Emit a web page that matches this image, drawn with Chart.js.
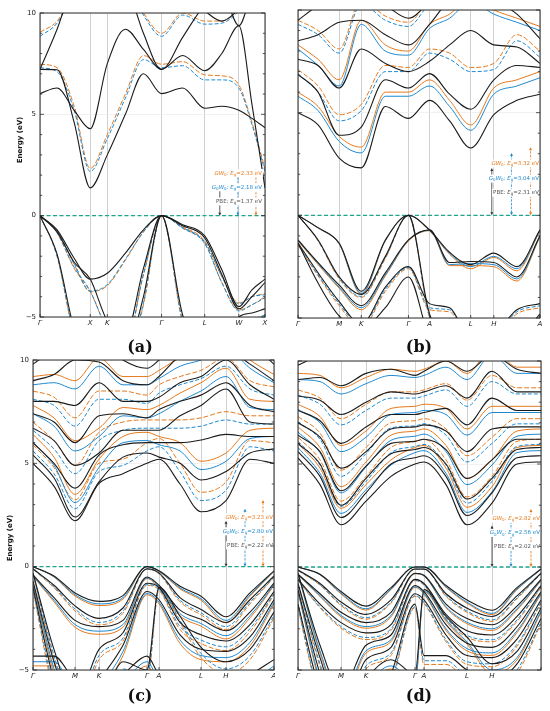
<!DOCTYPE html>
<html><head><meta charset="utf-8">
<script src="https://cdn.jsdelivr.net/npm/chart.js@4.4.1/dist/chart.umd.min.js"></script>
<style>
body{margin:0;background:#fff;width:550px;height:711px;position:relative;overflow:hidden}
canvas{position:absolute}
.lbl{position:absolute;font-family:'DejaVu Serif',serif;font-weight:bold;font-size:16px;transform:translate(-50%,-50%);white-space:nowrap;color:#111}
.ylab{position:absolute;font-family:'DejaVu Sans',sans-serif;font-weight:bold;font-size:7px;transform:translate(-50%,-50%) rotate(-90deg);white-space:nowrap;color:#111}
</style></head>
<body>
<canvas id="ca" style="left:0;top:0" width="275" height="330"></canvas>
<canvas id="cb" style="left:275px;top:0" width="275" height="330"></canvas>
<canvas id="cc" style="left:0;top:330px" width="275" height="381"></canvas>
<canvas id="cd" style="left:275px;top:330px" width="275" height="381"></canvas>
<div class="ylab" style="left:20px;top:140px">Energy (eV)</div>
<div class="ylab" style="left:10px;top:538px">Energy (eV)</div>
<div class="lbl" style="left:140px;top:346px">(a)</div>
<div class="lbl" style="left:419px;top:346px">(b)</div>
<div class="lbl" style="left:140px;top:695px">(c)</div>
<div class="lbl" style="left:419px;top:695px">(d)</div>
<script>
// ---------- Panel (a) ----------
const kA = [0, 17, 34, 50, 67, 85, 103, 121, 142, 164, 181, 198, 211, 224];
const tickA = [0, 50, 67, 121, 164, 198, 224];
const labA = ['Γ','X','K','Γ','L','W','X'];
const gapA = [1.37, 2.18, 2.33];
const pbeA = [
 [0, -0.7, -2.1, -3.13, -2.84, -1.85, -0.7, 0, -0.45, -1.0, -2.67, -4.49, -3.66, -3.13],
 [0, -0.8, -2.3, -3.13, -5.2, -5.9, -2.6, 0, -0.5, -1.1, -2.9, -4.6, -4.0, -3.3],
 [0, -1.9, -5.6, -7.5, -7.5, -7.0, -4.0, 0, -4.9, -7, -7, -5.0, -4.8, -4.6],
 [7.22, 7.2, 4.6, 1.37, 3.0, 5.0, 7.0, 6.02, 6.3, 5.3, 5.4, 5.2, 4.8, 4.34],
 [6.02, 6.3, 5.2, 4.29, 7.5, 9.2, 8.2, 7.22, 7.9, 7.15, 8.0, 9.37, 5.5, 1.37],
 [7.22, 9.2, 11.5, 12, 12, 11.5, 9.0, 7.22, 8.8, 10.4, 11, 9.37, 11, 12],
 [12, 11, 10.6, 11, 11, 10.5, 11, 12, 11, 10.1, 9.6, 10.2, 11, 12]
];
const g0w0A = [
 [0, -0.75, -2.35, -3.72, -3.4, -2.15, -0.8, 0, -0.58, -1.3, -3.0, -4.35, -4.0, -3.9],
 [0, -0.85, -2.55, -3.72, -5.6, -6.4, -2.9, 0, -0.62, -1.38, -3.3, -4.7, -4.4, -4.05],
 [0, -2.0, -5.9, -8, -8, -7.5, -4.3, 0, -5.2, -7.5, -7.5, -5.3, -5.1, -4.9],
 [7.3, 7.1, 5.2, 2.18, 3.8, 5.8, 7.7, 7.3, 7.4, 6.7, 6.7, 6.3, 4.5, 2.18],
 [8.85, 9.5, 11, 12, 12, 11.5, 9.9, 8.85, 9.9, 9.45, 9.5, 10.1, 11, 12]
];
const gw0A = [
 [0, -0.75, -2.4, -3.75, -3.45, -2.2, -0.8, 0, -0.55, -1.25, -3.0, -4.3, -4.0, -3.85],
 [0, -0.85, -2.6, -3.75, -5.6, -6.5, -2.9, 0, -0.6, -1.35, -3.3, -4.65, -4.4, -4.0],
 [0, -2.0, -6.0, -8, -8, -7.6, -4.4, 0, -5.3, -7.6, -7.6, -5.4, -5.2, -5.0],
 [7.47, 7.3, 5.4, 2.33, 4.0, 6.0, 7.9, 7.47, 7.6, 6.95, 6.9, 6.45, 4.6, 2.33],
 [9.05, 9.6, 11, 12, 12, 11.5, 10.0, 9.0, 10.0, 9.6, 9.6, 10.2, 11, 12]
];

// ---------- Panel (b) ----------
const kB = [0, 20, 41, 63, 87, 110, 131, 151, 172, 195, 218, 241];
const tickB = [0, 41, 63, 110, 131, 172, 195, 241];
const labB = ['Γ','M','K','Γ','A','L','H','A'];
const gapB = [2.31, 3.04, 3.32];
const pbeB = [
 [0, -0.6, -1.35, -3.7, -1.2, 0, -0.71, -1.8, -2.4, -1.84, -2.5, -0.71],
 [0, -1.2, -3.0, -3.85, -2.0, 0, -4.8, -6, -6, -6, -6, -4.8],
 [-1.2, -2.3, -3.4, -4.4, -2.8, -1.2, -0.71, -2.3, -2.25, -2.3, -3.0, -1.0],
 [-1.35, -2.8, -4.2, -5.3, -3.5, -2.5, -4.3, -4.5, -6, -5.8, -4.6, -4.3],
 [-1.35, -3.3, -4.9, -5.5, -4.5, -3.0, -6, -7, -7, -7, -7, -6],
 [5.0, 4.4, 2.79, 2.31, 5.3, 4.72, 5.6, 4.6, 3.28, 4.9, 5.6, 5.9],
 [6.86, 6.0, 3.9, 4.3, 6.6, 6.2, 6.9, 5.9, 5.17, 6.6, 7.3, 7.2],
 [7.6, 7.3, 6.2, 8.1, 7.4, 7.0, 7.5, 8.3, 9.0, 8.3, 8.2, 7.4],
 [8.5, 8.8, 9.4, 9.5, 8.8, 8.3, 9.3, 10.5, 11, 10.5, 9.8, 8.6],
 [9.5, 10.2, 10.5, 10.5, 10.2, 9.6, 10.5, 12, 12, 12, 11, 10]
];
const g0w0B = [
 [0, -0.61, -1.38, -3.8, -1.22, 0, -0.73, -1.85, -2.5, -2.0, -2.6, -0.74],
 [0, -1.22, -3.05, -3.95, -2.05, 0, -4.9, -6.1, -6.1, -6.1, -6.1, -4.9],
 [-1.22, -2.35, -3.5, -4.5, -2.9, -1.22, -0.73, -2.4, -2.35, -2.4, -3.1, -1.02],
 [-1.4, -2.9, -4.3, -5.4, -3.6, -2.55, -4.5, -4.6, -6.1, -5.9, -4.7, -4.4],
 [5.8, 5.1, 3.6, 3.04, 5.8, 5.8, 6.3, 5.3, 4.14, 5.9, 6.3, 6.7],
 [6.9, 6.0, 4.6, 5.1, 7.0, 7.0, 7.9, 7.6, 7.0, 7.1, 8.5, 7.7],
 [8.1, 7.3, 6.3, 9.3, 8.0, 7.8, 9.1, 9.6, 10.4, 9.8, 9.4, 9.0],
 [9.3, 8.8, 7.9, 10.3, 9.5, 9.2, 10.3, 10.8, 11.3, 10.8, 10.6, 10.3]
];
const gw0B = [
 [0, -0.62, -1.4, -3.85, -1.25, 0, -0.75, -1.9, -2.6, -2.05, -2.7, -0.76],
 [0, -1.25, -3.1, -4.0, -2.1, 0, -5.0, -6.2, -6.2, -6.2, -6.2, -5.0],
 [-1.25, -2.4, -3.55, -4.6, -2.95, -1.25, -0.75, -2.45, -2.45, -2.5, -3.2, -1.05],
 [-1.45, -2.95, -4.4, -5.5, -3.7, -2.6, -4.6, -4.7, -6.2, -6.0, -4.8, -4.5],
 [6.0, 5.3, 3.85, 3.32, 6.0, 6.0, 6.6, 5.6, 4.4, 6.2, 6.6, 7.0],
 [7.1, 6.3, 4.9, 5.4, 7.3, 7.2, 8.1, 7.9, 7.2, 7.4, 8.8, 8.0],
 [8.3, 7.6, 6.6, 9.5, 8.3, 8.0, 9.3, 9.8, 10.6, 10, 9.6, 9.2],
 [9.5, 9.0, 8.1, 10.5, 9.7, 9.4, 10.5, 11, 11.5, 11, 10.8, 10.5]
];

// ---------- Panel (c) ----------
const kC = [0, 21, 42, 66, 90, 114, 126, 147, 168, 193, 217, 241];
const tickC = [0, 42, 66, 114, 126, 168, 193, 241];
const labC = ['Γ','M','K','Γ','A','L','H','A'];
const gapC = [2.22, 2.80, 3.23];
const pbeC = [
 [0, -0.45, -1.27, -1.68, -1.4, 0, -0.2, -0.95, -1.43, -2.42, -1.27, -0.2],
 [-0.1, -0.9, -1.9, -2.5, -2.0, -0.1, -0.3, -1.5, -2.07, -2.7, -1.6, -0.45],
 [-0.4, -1.5, -2.6, -2.9, -2.6, -0.5, -0.9, -2.1, -2.55, -3.1, -2.2, -0.8],
 [-0.3, -4.0, -6.5, -4.0, -3.2, -0.8, -1.0, -2.7, -3.3, -3.6, -2.8, -1.2],
 [-0.7, -4.6, -7, -5.5, -3.8, -1.2, -1.6, -3.3, -4.0, -4.1, -3.4, -1.6],
 [-1.0, -5.5, -8, -7, -4.6, -5.0, -1.0, -2.4, -3.9, -4.6, -4.0, -2.2],
 [-4.33, -4.33, -5.5, -5.8, -5.2, -4.33, -5.2, -5.5, -6, -5.5, -5.2, -4.5],
 [5.0, 3.9, 2.22, 4.03, 4.5, 5.0, 5.2, 4.0, 2.66, 3.2, 5.2, 5.0],
 [5.4, 4.3, 2.4, 4.1, 5.3, 5.5, 5.3, 5.0, 4.19, 4.6, 5.5, 5.7],
 [6.0, 5.0, 3.8, 5.4, 5.9, 6.0, 6.0, 6.0, 6.13, 6.4, 6.3, 6.3],
 [6.7, 6.1, 4.9, 5.5, 6.6, 6.6, 6.6, 7.3, 7.8, 8.6, 7.0, 6.9],
 [7.4, 7.0, 6.0, 7.3, 7.4, 7.2, 7.6, 8.0, 8.3, 8.9, 7.8, 7.5],
 [8.0, 8.0, 7.8, 8.9, 8.0, 8.0, 8.2, 8.9, 9.2, 10.0, 8.8, 8.1],
 [9.0, 9.3, 10, 9.9, 9.0, 8.8, 9.2, 10.2, 10.5, 10.5, 9.8, 9.0],
 [9.8, 10.5, 11, 11, 10, 9.6, 10, 11, 11, 11, 10.8, 9.8]
];
const g0w0C = [
 [0, -0.48, -1.36, -1.8, -1.5, 0, -0.22, -1.03, -1.55, -2.6, -1.37, -0.22],
 [-0.12, -0.97, -2.05, -2.7, -2.15, -0.12, -0.33, -1.62, -2.23, -2.9, -1.72, -0.5],
 [-0.44, -1.62, -2.8, -3.12, -2.8, -0.55, -0.97, -2.27, -2.75, -3.34, -2.37, -0.87],
 [-0.33, -4.3, -7, -4.3, -3.45, -0.87, -1.08, -2.9, -3.55, -3.88, -3.0, -1.3],
 [-0.76, -4.95, -7.5, -5.9, -4.1, -1.3, -1.72, -3.55, -4.3, -4.4, -3.66, -1.72],
 [-1.08, -5.9, -8.5, -7.5, -4.95, -5.4, -1.08, -2.6, -4.2, -4.95, -4.3, -2.37],
 [-4.6, -4.6, -6, -6.3, -5.6, -4.6, -5.5, -5.9, -6.4, -5.9, -5.6, -4.8],
 [5.6, 4.5, 2.8, 4.6, 4.9, 5.6, 5.8, 4.6, 3.2, 3.7, 5.8, 5.6],
 [6.0, 4.9, 3.1, 4.8, 6.0, 6.1, 5.9, 5.6, 4.7, 5.1, 6.2, 6.3],
 [6.6, 5.7, 4.5, 6.1, 6.6, 6.7, 6.7, 6.7, 6.8, 7.1, 6.9, 6.9],
 [7.4, 6.8, 5.6, 6.3, 7.3, 7.2, 7.4, 8.0, 8.5, 9.2, 7.7, 7.6],
 [8.1, 7.8, 6.8, 8.1, 8.1, 7.9, 8.4, 8.8, 9.1, 9.7, 8.6, 8.3],
 [8.8, 8.9, 8.6, 9.7, 8.8, 8.8, 9.1, 9.7, 10.0, 10.6, 9.6, 8.9]
];
const gw0C = [
 [0, -0.5, -1.42, -1.88, -1.57, 0, -0.23, -1.08, -1.62, -2.72, -1.43, -0.23],
 [-0.13, -1.02, -2.14, -2.82, -2.25, -0.13, -0.35, -1.7, -2.33, -3.04, -1.8, -0.52],
 [-0.46, -1.7, -2.93, -3.27, -2.93, -0.58, -1.02, -2.38, -2.88, -3.5, -2.48, -0.91],
 [-0.35, -4.5, -7.3, -4.5, -3.6, -0.91, -1.13, -3.04, -3.72, -4.06, -3.15, -1.36],
 [-0.8, -5.2, -7.9, -6.2, -4.3, -1.36, -1.8, -3.72, -4.5, -4.6, -3.83, -1.8],
 [-1.13, -6.2, -9, -7.9, -5.2, -5.6, -1.13, -2.7, -4.4, -5.2, -4.5, -2.48],
 [-4.8, -4.8, -6.2, -6.5, -5.8, -4.8, -5.7, -6.1, -6.6, -6.1, -5.8, -5.0],
 [5.9, 4.8, 3.23, 5.0, 5.2, 6.0, 6.2, 5.0, 3.6, 4.1, 6.1, 6.0],
 [6.4, 5.3, 3.5, 5.2, 6.3, 6.5, 6.3, 6.0, 5.1, 5.5, 6.6, 6.7],
 [7.0, 6.1, 4.9, 6.5, 7.0, 7.1, 7.1, 7.1, 7.2, 7.5, 7.3, 7.3],
 [7.8, 7.2, 6.1, 6.7, 7.7, 7.6, 7.8, 8.4, 8.9, 9.6, 8.1, 8.0],
 [8.5, 8.2, 7.2, 8.5, 8.5, 8.3, 8.8, 9.2, 9.5, 10.1, 9.0, 8.7],
 [9.2, 9.3, 9.0, 10.1, 9.2, 9.2, 9.5, 10.1, 10.4, 11, 10, 9.3]
];

// ---------- Panel (d) ----------
const kD = [0, 22, 43, 68, 93, 117, 126, 148, 169, 194, 219, 243];
const tickD = [0, 43, 68, 117, 126, 169, 194, 243];
const labD = ['Γ','M','K','Γ','A','L','H',''];
const gapD = [2.02, 2.56, 2.82];
const pbeD = [
 [0, -0.35, -1.19, -1.9, -1.0, 0, 0, -0.9, -1.6, -2.1, -1.0, -0.1],
 [-0.15, -0.8, -1.7, -2.3, -1.6, -0.1, -0.1, -1.3, -2.0, -2.4, -1.4, -0.3],
 [-0.35, -1.3, -2.2, -2.7, -2.2, -0.3, -0.4, -1.8, -2.5, -2.8, -1.9, -0.6],
 [-0.6, -1.8, -2.7, -3.2, -2.8, -0.6, -0.8, -2.3, -3.1, -3.3, -2.4, -0.9],
 [-0.3, -3.8, -6, -3.8, -3.3, -0.9, -1.2, -2.8, -3.7, -3.9, -2.9, -1.2],
 [-0.8, -4.4, -7, -4.5, -3.9, -1.3, -1.6, -3.3, -4.3, -4.4, -3.5, -1.6],
 [-1.1, -5.2, -8, -5.5, -4.5, -5.2, -1.1, -2.4, -3.4, -4.7, -4.1, -2.0],
 [-1.8, -6, -8, -7, -5.2, -1.8, -4.3, -4.3, -5.0, -5.5, -4.7, -2.5],
 [5.3, 4.0, 2.05, 3.2, 4.4, 5.0, 5.1, 4.0, 2.05, 3.1, 5.0, 5.1],
 [5.6, 4.4, 2.4, 3.6, 5.0, 5.3, 5.4, 4.4, 2.5, 3.6, 5.3, 5.4],
 [6.0, 5.0, 3.0, 4.3, 5.5, 5.7, 5.8, 5.0, 3.3, 4.3, 5.7, 5.8],
 [6.4, 5.6, 3.7, 4.9, 6.0, 6.1, 6.2, 5.7, 4.3, 5.2, 6.2, 6.2],
 [7.0, 6.3, 4.8, 5.6, 6.7, 6.8, 6.9, 6.6, 5.6, 6.7, 6.8, 6.8],
 [7.6, 7.1, 6.0, 6.8, 7.4, 7.4, 7.5, 7.7, 6.9, 8.2, 7.6, 7.6],
 [8.3, 8.1, 7.4, 8.0, 8.5, 8.4, 8.5, 8.8, 8.2, 9.5, 8.5, 8.5],
 [9.1, 9.2, 8.8, 9.4, 9.6, 9.3, 9.5, 10.0, 9.5, 10.3, 9.6, 9.4],
 [9.8, 10.2, 10.2, 10.5, 10.5, 10.2, 10.4, 11, 10.8, 11, 10.5, 10.2]
];
const g0w0D = [
 [0, -0.37, -1.27, -2.03, -1.07, 0, 0, -0.96, -1.71, -2.25, -1.07, -0.11],
 [-0.16, -0.86, -1.82, -2.46, -1.71, -0.11, -0.11, -1.39, -2.14, -2.57, -1.5, -0.32],
 [-0.37, -1.39, -2.35, -2.89, -2.35, -0.32, -0.43, -1.93, -2.68, -3.0, -2.03, -0.64],
 [-0.64, -1.93, -2.89, -3.42, -3.0, -0.64, -0.86, -2.46, -3.32, -3.53, -2.57, -0.96],
 [-0.32, -4.07, -6.4, -4.07, -3.53, -0.96, -1.28, -3.0, -3.96, -4.17, -3.1, -1.28],
 [-0.86, -4.7, -7.5, -4.8, -4.17, -1.39, -1.71, -3.53, -4.6, -4.7, -3.75, -1.71],
 [-1.18, -5.56, -8.5, -5.9, -4.8, -5.56, -1.18, -2.57, -3.64, -5.0, -4.4, -2.14],
 [-1.93, -6.4, -8.5, -7.5, -5.56, -1.93, -4.55, -4.55, -5.35, -5.9, -5.0, -2.68],
 [5.8, 4.55, 2.6, 3.75, 4.95, 5.55, 5.65, 4.55, 2.65, 3.65, 5.55, 5.65],
 [6.1, 4.95, 2.95, 4.15, 5.55, 5.85, 5.95, 4.95, 3.1, 4.15, 5.85, 5.95],
 [6.55, 5.55, 3.6, 4.85, 6.15, 6.35, 6.45, 5.6, 4.0, 4.95, 6.35, 6.45],
 [7.05, 6.2, 4.4, 5.5, 6.75, 6.85, 6.95, 6.4, 5.1, 6.0, 6.95, 6.95],
 [7.65, 7.0, 5.6, 6.3, 7.4, 7.5, 7.6, 7.4, 6.4, 7.5, 7.5, 7.5],
 [8.35, 7.9, 6.9, 7.6, 8.2, 8.2, 8.3, 8.6, 7.8, 9.0, 8.4, 8.4],
 [9.1, 9.0, 8.4, 8.9, 9.3, 9.2, 9.3, 9.7, 9.1, 10.3, 9.4, 9.4]
];
const gw0D = [
 [0, -0.38, -1.31, -2.09, -1.1, 0, 0, -0.99, -1.76, -2.31, -1.1, -0.11],
 [-0.17, -0.88, -1.87, -2.53, -1.76, -0.11, -0.11, -1.43, -2.2, -2.64, -1.54, -0.33],
 [-0.38, -1.43, -2.42, -2.97, -2.42, -0.33, -0.44, -1.98, -2.75, -3.08, -2.09, -0.66],
 [-0.66, -1.98, -2.97, -3.52, -3.08, -0.66, -0.88, -2.53, -3.41, -3.63, -2.64, -0.99],
 [-0.33, -4.18, -6.6, -4.18, -3.63, -0.99, -1.32, -3.08, -4.07, -4.29, -3.19, -1.32],
 [-0.88, -4.84, -7.7, -4.95, -4.29, -1.43, -1.76, -3.63, -4.73, -4.84, -3.85, -1.76],
 [-1.21, -5.72, -8.8, -6.05, -4.95, -5.72, -1.21, -2.64, -3.74, -5.17, -4.51, -2.2],
 [-1.98, -6.6, -8.8, -7.7, -5.72, -1.98, -4.73, -4.73, -5.5, -6.05, -5.17, -2.75],
 [6.0, 4.8, 2.85, 4.0, 5.2, 5.8, 5.9, 4.8, 2.9, 3.9, 5.8, 5.9],
 [6.3, 5.2, 3.2, 4.4, 5.8, 6.1, 6.2, 5.2, 3.4, 4.4, 6.1, 6.2],
 [6.8, 5.8, 3.9, 5.1, 6.4, 6.6, 6.7, 5.9, 4.3, 5.2, 6.6, 6.7],
 [7.3, 6.5, 4.7, 5.8, 7.0, 7.1, 7.2, 6.7, 5.4, 6.3, 7.2, 7.2],
 [7.9, 7.3, 5.9, 6.6, 7.7, 7.8, 7.9, 7.7, 6.7, 7.8, 7.8, 7.8],
 [8.6, 8.2, 7.2, 7.9, 8.5, 8.5, 8.6, 8.9, 8.1, 9.3, 8.7, 8.7],
 [9.4, 9.3, 8.7, 9.2, 9.6, 9.5, 9.6, 10.0, 9.4, 10.6, 9.7, 9.7]
];

// ---------- styling / layout ----------
const BLACK = '#1b1b1b', BLUE = '#1f8ad0', ORANGE = '#e57a1e', TEAL = '#1fa58b', GREY = '#555555';

const panels = [
 {id:'ca', k:kA, ticks:tickA, labels:labA, pbe:pbeA, g0w0:g0w0A, gw0:gw0A, gaps:gapA, yLabels:true, allDashed:true,
  pad:{top:13,right:10,left:0,bottom:0}, yW:40, xH:13, arrowsK:[179,197,215], textR:221, textE:[0.7,1.4,2.1]},
 {id:'cb', k:kB, ticks:tickB, labels:labB, pbe:pbeB, g0w0:g0w0B, gw0:gw0B, gaps:gapB, yLabels:false, allDashed:false,
  pad:{top:10,right:10,left:0,bottom:0}, yW:23, xH:12, arrowsK:[193,212.6,231.6], textR:240, textE:[1.1,1.79,2.53]},
 {id:'cc', k:kC, ticks:tickC, labels:labC, pbe:pbeC, g0w0:g0w0C, gw0:gw0C, gaps:gapC, yLabels:true, allDashed:false,
  pad:{top:30,right:1,left:0,bottom:0}, yW:33, xH:41, arrowsK:[193,212,230], textR:240, textE:[1.03,1.71,2.39]},
 {id:'cd', k:kD, ticks:tickD, labels:labD, pbe:pbeD, g0w0:g0w0D, gw0:gw0D, gaps:gapD, yLabels:false, allDashed:false,
  pad:{top:31,right:9,left:0,bottom:0}, yW:23, xH:41, arrowsK:[194,213,233], textR:242, textE:[0.98,1.65,2.34]}
];

function pts(k, band){ return band.map((v,i)=>({x:k[i], y:v})); }

function richParts(kind, gap){
  const g = '=' + gap.toFixed(2) + ' eV';
  if (kind === 'gw0') return [['GW','i'],['0','s'],[': ','n'],['E','i'],['g','s'],[g,'n']];
  if (kind === 'g0w0') return [['G','i'],['0','s'],['W','i'],['0','s'],[': ','n'],['E','i'],['g','s'],[g,'n']];
  return [['PBE: ','n'],['E','i'],['g','s'],[g,'n']];
}
const FONTS = {n:'5.5px "DejaVu Sans"', i:'italic 5.5px "DejaVu Sans"', s:'4px "DejaVu Sans"'};
function drawRich(ctx, parts, xr, y, color){
  let w = 0;
  parts.forEach(p=>{ ctx.font = FONTS[p[1]]; w += ctx.measureText(p[0]).width; });
  let x = xr - w;
  ctx.fillStyle = '#fff'; ctx.fillRect(x-1, y-4, w+2, 8);
  ctx.fillStyle = color; ctx.textAlign = 'left'; ctx.textBaseline = 'middle';
  parts.forEach(p=>{ ctx.font = FONTS[p[1]]; ctx.fillText(p[0], x, p[1]==='s' ? y+1.6 : y); x += ctx.measureText(p[0]).width; });
}
function drawArrow(ctx, x, yBot, yTop, color, dash){
  ctx.save();
  ctx.strokeStyle = color; ctx.fillStyle = color; ctx.lineWidth = 0.8;
  ctx.setLineDash(dash);
  ctx.beginPath(); ctx.moveTo(x, yBot-2.5); ctx.lineTo(x, yTop+2.5); ctx.stroke();
  ctx.setLineDash([]);
  ctx.beginPath(); ctx.moveTo(x, yBot); ctx.lineTo(x-1.5, yBot-3); ctx.lineTo(x+1.5, yBot-3); ctx.closePath(); ctx.fill();
  ctx.beginPath(); ctx.moveTo(x, yTop); ctx.lineTo(x-1.5, yTop+3); ctx.lineTo(x+1.5, yTop+3); ctx.closePath(); ctx.fill();
  ctx.restore();
}

const decor = {
  id:'decor',
  afterDatasetsDraw(chart, args, opts){
    const P = opts.panel;
    const {ctx, chartArea:a, scales:{x, y}} = chart;
    ctx.save();
    const y0 = y.getPixelForValue(0);
    const cols = [GREY, BLUE, ORANGE];
    P.arrowsK.forEach((kk, i)=>{
      drawArrow(ctx, x.getPixelForValue(kk), y0, y.getPixelForValue(P.gaps[i]), i===0 ? '#333' : cols[i], i===0 ? [] : [2.5,1.2]);
    });
    ['pbe','g0w0','gw0'].forEach((kd, i)=>{
      drawRich(ctx, richParts(kd, P.gaps[i]), x.getPixelForValue(P.textR), y.getPixelForValue(P.textE[i]), cols[i]);
    });
    ctx.strokeStyle = '#2a2a2a'; ctx.lineWidth = 1;
    ctx.strokeRect(a.left, a.top, a.right - a.left, a.bottom - a.top);
    ctx.lineWidth = 0.8;
    for (let v = -5; v <= 10; v++){
      const yy = y.getPixelForValue(v);
      const len = (v % 5 === 0) ? 4 : 2.2;
      ctx.beginPath();
      ctx.moveTo(a.left, yy); ctx.lineTo(a.left + len, yy);
      ctx.moveTo(a.right, yy); ctx.lineTo(a.right - len, yy);
      ctx.stroke();
    }
    P.ticks.forEach(t=>{
      const xx = x.getPixelForValue(t);
      ctx.beginPath(); ctx.moveTo(xx, a.bottom); ctx.lineTo(xx, a.bottom - 3); ctx.stroke();
    });
    ctx.restore();
  }
};

panels.forEach(P=>{
  const ds = [];
  const kEnd = P.k[P.k.length-1];
  P.pbe.forEach(b=>ds.push({data:pts(P.k,b), borderColor:BLACK, borderWidth:1.1, borderDash:[]}));
  P.g0w0.forEach((b,i)=>ds.push({data:pts(P.k,b), borderColor:BLUE, borderWidth:1.0,
     borderDash: (P.allDashed || i%2===1) ? [4,2] : []}));
  P.gw0.forEach((b,i)=>ds.push({data:pts(P.k,b), borderColor:ORANGE, borderWidth:1.0,
     borderDash: (P.allDashed || i%2===1) ? [5,2] : []}));
  ds.push({data:[{x:0,y:0},{x:kEnd,y:0}], borderColor:TEAL, borderWidth:1.3, borderDash:[4,2.5], cubicInterpolationMode:'default', tension:0});
  ds.forEach(d=>{ d.pointRadius = 0; d.fill = false; if (!d.cubicInterpolationMode) { d.cubicInterpolationMode = 'monotone'; d.tension = 0.4; } d.capBezierPoints = false; });

  new Chart(document.getElementById(P.id), {
    type:'line',
    data:{datasets:ds},
    options:{
      responsive:false, animation:false, events:[],
      layout:{padding:P.pad},
      plugins:{legend:{display:false}, tooltip:{enabled:false}, decor:{panel:P}},
      elements:{line:{capBezierPoints:false}},
      scales:{
        x:{type:'linear', min:0, max:kEnd,
           afterBuildTicks:(s)=>{ s.ticks = P.ticks.map(v=>({value:v})); },
           afterFit:(s)=>{ s.height = P.xH; s.paddingLeft = 0; s.paddingRight = 0; },
           grid:{color:'#c4c4c4', lineWidth:0.8, drawTicks:false},
           border:{display:false},
           ticks:{autoSkip:false, maxRotation:0, padding:2, color:'#222',
                  font:{family:'DejaVu Sans', style:'italic', size:7},
                  callback:(v, i)=>P.labels[i]}},
        y:{type:'linear', min:-5, max:10,
           afterFit:(s)=>{ s.width = P.yW; },
           afterBuildTicks:(s)=>{ s.ticks = [-5,0,5,10].map(v=>({value:v})); },
           grid:{color:'#e8e8e8', lineWidth:0.6, drawTicks:false},
           border:{display:false},
           ticks:{display:P.yLabels, padding:4, color:'#222', font:{family:'DejaVu Sans', size:7},
                  callback:(v)=> v < 0 ? '\u2212' + Math.abs(v) : String(v)}}
      }
    },
    plugins:[decor]
  });
});
</script>
</body></html>
